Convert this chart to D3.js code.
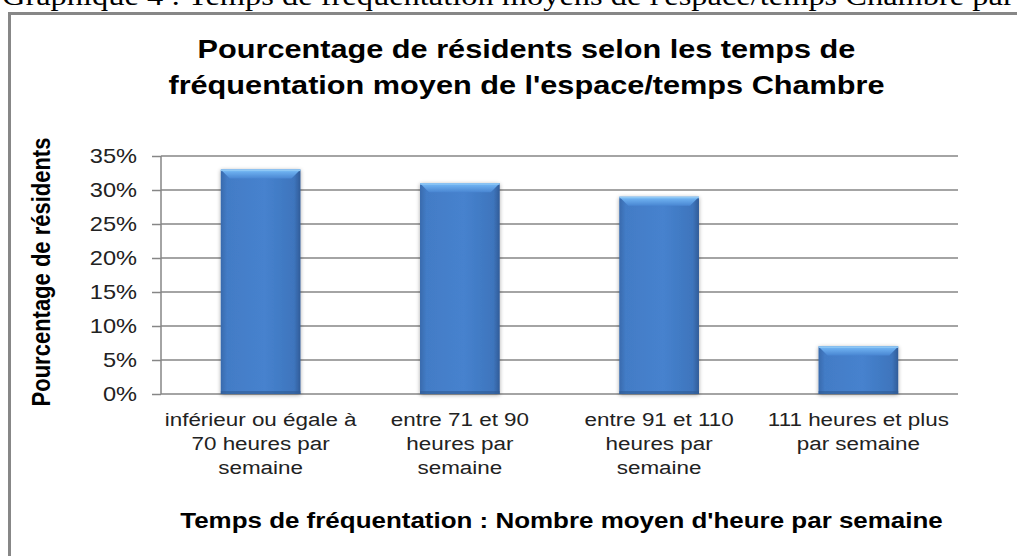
<!DOCTYPE html>
<html>
<head>
<meta charset="utf-8">
<script src="https://cdn.jsdelivr.net/npm/d3@7"></script>
<style>
  html, body { margin: 0; padding: 0; background: #ffffff; overflow: hidden; }
  svg { display: block; }
</style>
</head>
<body>
<svg id="chart" width="1017" height="556"></svg>
<script>
// Temps de fréquentation de l'espace/temps Chambre
const categories = [
  ["inférieur ou égale à", "70 heures par", "semaine"],
  ["entre 71 et 90", "heures par", "semaine"],
  ["entre 91 et 110", "heures par", "semaine"],
  ["111 heures et plus", "par semaine"]
];
const percents = [33, 31, 29, 7];
const yTicks = [0, 5, 10, 15, 20, 25, 30, 35];
const captionText = "Graphique 4 : Temps de fréquentation moyens de l'espace/temps Chambre par";
const titleLines = ["Pourcentage de résidents selon les temps de", "fréquentation moyen de l'espace/temps Chambre"];
const yTitle = "Pourcentage de résidents";
const xTitle = "Temps de fréquentation : Nombre moyen d'heure par semaine";

const svg = d3.select("#chart");
const SX = 1.18; // horizontal stretch of the exported chart text

const plot = { left: 161, right: 958, top: 156, bottom: 394 };

const x = d3.scaleBand()
  .domain(d3.range(categories.length))
  .range([plot.left, plot.right])
  .paddingInner(0.6)
  .paddingOuter(0.3);

const y = d3.scaleLinear().domain([0, 35]).range([plot.bottom, plot.top]);

const defs = svg.append("defs");
const body = defs.append("linearGradient").attr("id", "barBody").attr("x1", 0).attr("x2", 1).attr("y1", 0).attr("y2", 0);
body.append("stop").attr("offset", "0%").attr("stop-color", "#386aad");
body.append("stop").attr("offset", "8%").attr("stop-color", "#437cc6");
body.append("stop").attr("offset", "55%").attr("stop-color", "#4682ce");
body.append("stop").attr("offset", "92%").attr("stop-color", "#3e75bd");
body.append("stop").attr("offset", "100%").attr("stop-color", "#315c98");
const bevel = defs.append("linearGradient").attr("id", "barTop").attr("x1", 0).attr("x2", 0).attr("y1", 0).attr("y2", 1);
bevel.append("stop").attr("offset", "0%").attr("stop-color", "#78bcf8");
bevel.append("stop").attr("offset", "100%").attr("stop-color", "#4986d2");
const shadow = defs.append("filter").attr("id", "barShadow").attr("x", "-20%").attr("y", "-20%").attr("width", "140%").attr("height", "140%");
shadow.append("feGaussianBlur").attr("in", "SourceAlpha").attr("stdDeviation", 2.2).attr("result", "b");
shadow.append("feOffset").attr("in", "b").attr("dx", 0).attr("dy", 1).attr("result", "o");
shadow.append("feComponentTransfer").attr("in", "o").attr("result", "s")
  .append("feFuncA").attr("type", "linear").attr("slope", 0.35);
const merge = shadow.append("feMerge");
merge.append("feMergeNode").attr("in", "s");
merge.append("feMergeNode").attr("in", "SourceGraphic");

// caption above the frame, running off the top and right edges of the page
svg.append("text")
  .attr("transform", `translate(2,5) scale(${SX},1)`)
  .attr("font-family", "'Liberation Serif', 'Times New Roman', serif")
  .attr("font-size", 27.5)
  .attr("fill", "#000")
  .text(captionText);

// chart frame
svg.append("rect")
  .attr("x", 9.5).attr("y", 13.5)
  .attr("width", 1200).attr("height", 700)
  .attr("fill", "#ffffff")
  .attr("stroke", "#878787")
  .attr("stroke-width", 3);

// title
titleLines.forEach((line, i) => {
  svg.append("text")
    .attr("transform", `translate(${(plot.left + plot.right) / 2 - 33},${58 + i * 36}) scale(${SX},1)`)
    .attr("text-anchor", "middle")
    .attr("font-family", "Arial, 'Liberation Sans', sans-serif")
    .attr("font-weight", "bold")
    .attr("font-size", 26)
    .attr("fill", "#000")
    .text(line);
});

// gridlines (extend left past the axis as tick marks)
svg.append("g")
  .attr("transform", `translate(${plot.left},0)`)
  .call(d3.axisLeft(y).tickValues(yTicks).tickSize(9).tickFormat(""))
  .call(g => g.select(".domain").remove())
  .call(g => g.selectAll(".tick line").attr("stroke", "#868686").attr("stroke-width", 1.5));
svg.append("g")
  .selectAll("line")
  .data(yTicks)
  .join("line")
  .attr("x1", plot.left).attr("x2", plot.right)
  .attr("y1", d => y(d)).attr("y2", d => y(d))
  .attr("stroke", "#868686").attr("stroke-width", 1.5);

// vertical axis line
svg.append("line")
  .attr("x1", plot.left).attr("x2", plot.left)
  .attr("y1", plot.top).attr("y2", plot.bottom)
  .attr("stroke", "#868686").attr("stroke-width", 1.5);

// tick labels
svg.append("g")
  .selectAll("text")
  .data(yTicks)
  .join("text")
  .attr("transform", d => `translate(137,${y(d) + 7}) scale(${SX},1)`)
  .attr("text-anchor", "end")
  .attr("font-family", "Arial, 'Liberation Sans', sans-serif")
  .attr("font-size", 20)
  .attr("fill", "#222")
  .text(d => d + "%");

// bars
const bars = svg.append("g").selectAll("g").data(percents).join("g")
  .attr("filter", "url(#barShadow)");
bars.append("rect")
  .attr("x", (d, i) => x(i))
  .attr("y", d => y(d))
  .attr("width", x.bandwidth())
  .attr("height", d => y(0) - y(d))
  .attr("fill", "url(#barBody)");
bars.append("path")
  .attr("d", (d, i) => {
    const x0 = x(i), x1 = x(i) + x.bandwidth(), t = y(d), b = 9;
    return `M${x0},${t}L${x1},${t}L${x1 - b},${t + b}L${x0 + b},${t + b}Z`;
  })
  .attr("fill", "url(#barTop)");
bars.append("rect")
  .attr("x", (d, i) => x(i))
  .attr("y", d => y(d))
  .attr("width", x.bandwidth())
  .attr("height", 1.5)
  .attr("fill", "#8fc8f5");
bars.append("rect")
  .attr("x", (d, i) => x(i))
  .attr("y", y(0) - 3)
  .attr("width", x.bandwidth())
  .attr("height", 3)
  .attr("fill", "#2f5a92")
  .attr("opacity", 0.6);

// category labels
const catG = svg.append("g").selectAll("text").data(categories).join("text")
  .attr("text-anchor", "middle")
  .attr("font-family", "Arial, 'Liberation Sans', sans-serif")
  .attr("font-size", 19)
  .attr("fill", "#222")
  .attr("transform", (d, i) => `translate(${x(i) + x.bandwidth() / 2},426) scale(${SX},1)`);
catG.selectAll("tspan").data(d => d).join("tspan")
  .attr("x", 0)
  .attr("dy", (d, j) => j === 0 ? 0 : 24)
  .text(d => d);

// axis titles
svg.append("text")
  .attr("transform", `translate(50,272) scale(${SX},1) rotate(-90)`)
  .attr("text-anchor", "middle")
  .attr("font-family", "Arial, 'Liberation Sans', sans-serif")
  .attr("font-weight", "bold")
  .attr("font-size", 22)
  .attr("fill", "#000")
  .text(yTitle);

svg.append("text")
  .attr("transform", `translate(${(plot.left + plot.right) / 2 + 2},528) scale(${SX},1)`)
  .attr("text-anchor", "middle")
  .attr("font-family", "Arial, 'Liberation Sans', sans-serif")
  .attr("font-weight", "bold")
  .attr("font-size", 22)
  .attr("fill", "#000")
  .text(xTitle);
</script>
</body>
</html>
